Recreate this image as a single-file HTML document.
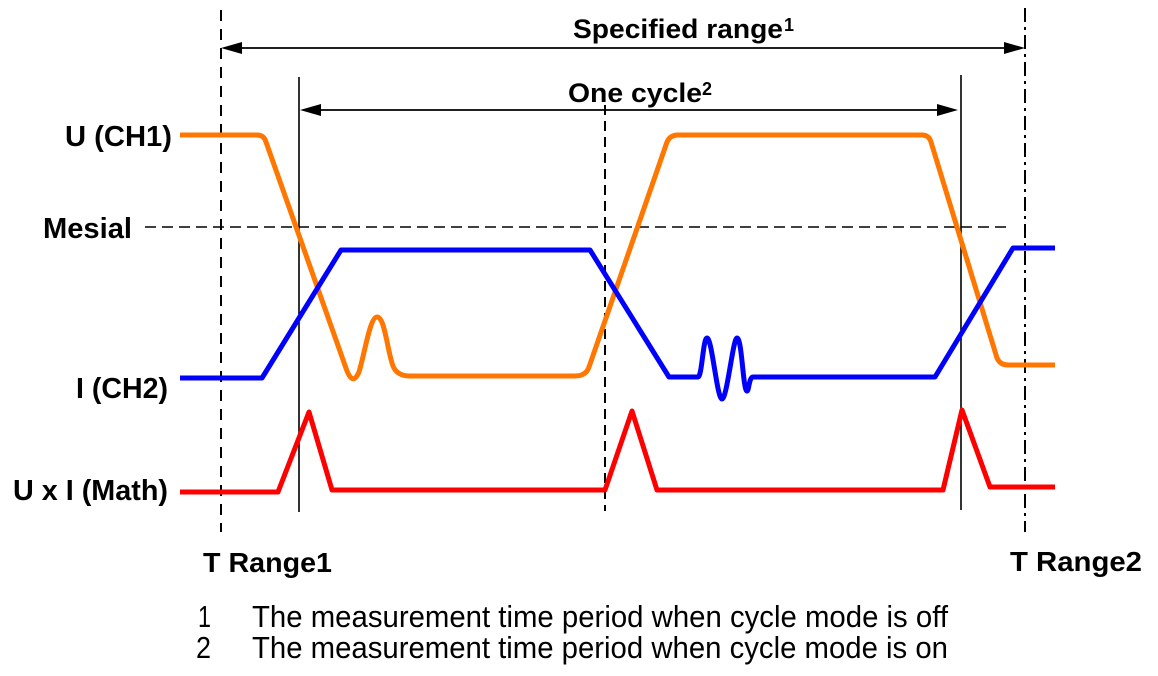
<!DOCTYPE html>
<html>
<head>
<meta charset="utf-8">
<style>
  html,body{margin:0;padding:0;background:#fff;}
  body{width:1158px;height:676px;overflow:hidden;}
  svg{display:block;}
  .lbl{font-family:"Liberation Sans",Arial,sans-serif;font-weight:bold;fill:#000;}
  .fn{font-family:"Liberation Sans",Arial,sans-serif;fill:#000;}
</style>
</head>
<body>
<svg width="1158" height="676" viewBox="0 0 1158 676" xmlns="http://www.w3.org/2000/svg">
  <rect width="1158" height="676" fill="#fff"/>

  <!-- vertical reference lines -->
  <line x1="221" y1="10" x2="221" y2="532" stroke="#000" stroke-width="2" stroke-dasharray="11,8"/>
  <line x1="1025" y1="8" x2="1025" y2="532" stroke="#000" stroke-width="2" stroke-dasharray="14,5,3,5"/>
  <line x1="605" y1="105" x2="605" y2="511" stroke="#000" stroke-width="2" stroke-dasharray="10,6"/>
  <line x1="299" y1="77" x2="299" y2="512" stroke="#000" stroke-width="1.6"/>
  <line x1="961" y1="75" x2="961" y2="510" stroke="#000" stroke-width="1.6"/>

  <!-- mesial line -->
  <line x1="145" y1="227" x2="1008" y2="227" stroke="#000" stroke-width="1.6" stroke-dasharray="11,6"/>

  <!-- Specified range arrow -->
  <line x1="236" y1="48" x2="1010" y2="48" stroke="#000" stroke-width="1.8"/>
  <polygon points="221,48 242,42 242,54" fill="#000"/>
  <polygon points="1025,48 1004,42 1004,54" fill="#000"/>

  <!-- One cycle arrow -->
  <line x1="314" y1="110" x2="946" y2="110" stroke="#000" stroke-width="1.8"/>
  <polygon points="300,110 321,104 321,116" fill="#000"/>
  <polygon points="958,110 937,104 937,116" fill="#000"/>

  <!-- Orange U (CH1) -->
  <path d="M180,135 L257,135 Q264,135 266,142 L347,371 Q353,386 359,372 C365,352 370,317 377,317 C385,317 387,350 393,366 Q397,376 410,376 L575,376 Q586,376 589,367 L667,142 Q670,135 678,135 L922,135 Q929,135 931,142 L997,358 Q1000,365 1008,365 L1055,365"
        fill="none" stroke="#ff7700" stroke-width="5" stroke-linejoin="round" stroke-linecap="butt"/>

  <!-- Blue I (CH2) -->
  <path d="M180,378 L262,378 L341,250 L590,250 L669,377 L698,377 C702,377 703,338 707,338 C712,338 717,399 722,399 C727,399 733,338 737,338 C742,338 743,391 747,391 C749,391 749,377 753,377 L935,377 L1013,248 L1055,248"
        fill="none" stroke="#0000ff" stroke-width="5" stroke-linejoin="round"/>

  <!-- Red U x I (Math) -->
  <path d="M180,492 L278,492 L309,412 L332,490 L605,490 L632,411 L657,490 L943,490 L962,410 L990,487 L1055,487"
        fill="none" stroke="#ff0000" stroke-width="5" stroke-linejoin="round"/>

  <!-- Titles -->
  <text class="lbl" x="573" y="38" font-size="27" textLength="210" lengthAdjust="spacingAndGlyphs">Specified range</text>
  <text class="lbl" x="784" y="31" font-size="18">1</text>
  <text class="lbl" x="568" y="102" font-size="27" textLength="134" lengthAdjust="spacingAndGlyphs">One cycle</text>
  <text class="lbl" x="702" y="95" font-size="18">2</text>

  <!-- Left labels -->
  <text class="lbl" x="172" y="146" font-size="29" text-anchor="end" textLength="107" lengthAdjust="spacingAndGlyphs">U (CH1)</text>
  <text class="lbl" x="132" y="238" font-size="29" text-anchor="end" textLength="89" lengthAdjust="spacingAndGlyphs">Mesial</text>
  <text class="lbl" x="168" y="398" font-size="29" text-anchor="end" textLength="92" lengthAdjust="spacingAndGlyphs">I (CH2)</text>
  <text class="lbl" x="168" y="500" font-size="29" text-anchor="end" textLength="155" lengthAdjust="spacingAndGlyphs">U x I (Math)</text>

  <!-- T Range labels -->
  <text class="lbl" x="203" y="572" font-size="28" textLength="129" lengthAdjust="spacingAndGlyphs">T Range1</text>
  <text class="lbl" x="1010" y="571" font-size="28" textLength="132" lengthAdjust="spacingAndGlyphs">T Range2</text>

  <!-- Footnotes -->
  <text class="fn" x="198" y="627" font-size="31" textLength="13" lengthAdjust="spacingAndGlyphs">1</text>
  <text class="fn" x="252" y="627" font-size="31" textLength="696" lengthAdjust="spacingAndGlyphs">The measurement time period when cycle mode is off</text>
  <text class="fn" x="196" y="658" font-size="31" textLength="15" lengthAdjust="spacingAndGlyphs">2</text>
  <text class="fn" x="252" y="658" font-size="31" textLength="696" lengthAdjust="spacingAndGlyphs">The measurement time period when cycle mode is on</text>
</svg>
</body>
</html>
